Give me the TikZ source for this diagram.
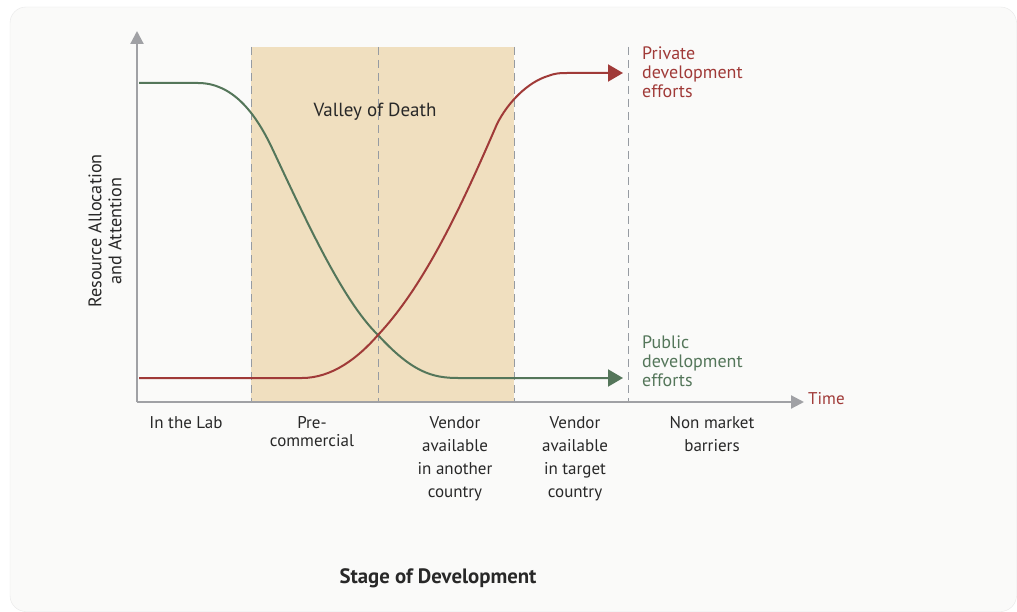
\documentclass[tikz,border=0pt]{standalone}
\usepackage{fontspec}
\setmainfont{PT Sans}
\usetikzlibrary{arrows.meta, positioning}

\definecolor{panelgray}{RGB}{250,250,249}
\definecolor{panelline}{RGB}{232,232,232}
\definecolor{valleytan}{RGB}{240,223,191}
\definecolor{privred}{RGB}{160,58,56}
\definecolor{pubgreen}{RGB}{84,118,90}
\definecolor{axisgray}{RGB}{160,161,165}
\definecolor{dashgray}{RGB}{150,155,162}
\definecolor{labeltext}{RGB}{40,40,40}

\tikzset{
  axisline/.style={draw=axisgray, line width=2.2bp, -{Triangle[length=13bp,width=13bp]}},
  stageline/.style={draw=dashgray, line width=1bp, dash pattern=on 8bp off 5bp},
  effort/.style={line width=2bp, -{Triangle[length=15bp,width=17bp]}},
  stagelabel/.style={anchor=north, align=center, inner sep=0pt, text=labeltext, font=\fontsize{17bp}{23bp}\selectfont},
  effortlabel/.style={anchor=west, align=left, inner sep=0pt, font=\fontsize{18bp}{19bp}\selectfont},
}

\begin{document}
\begin{tikzpicture}[x=1bp, y=-1bp]
            \useasboundingbox (0,0) rectangle (1017,612);

            % Panel behind the chart
            \fill[white] (0,0) rectangle (1017,612);
            \draw[panelline, fill=panelgray, rounded corners=16bp] (10,7) rectangle (1016.5,611.5);

            % Valley of death band
            \fill[valleytan] (251,47) rectangle (514,401);

            % Dashed stage borders
            \foreach \x in {251, 378, 514, 628} {
                    \draw[stageline] (\x,47) -- (\x,401);
                }

            % Axes
            \coordinate (origin) at (137,402);
            \coordinate (ytop) at (137,31);
            \coordinate (xend) at (804,402);
            \draw[axisline] (origin) -- (ytop);
            \draw[axisline] (origin) -- (xend);

            % Public and private effort curves
            \coordinate (pubstart) at (139,83);
            \coordinate (pubend) at (623,378);
            \coordinate (privstart) at (139,378);
            \coordinate (privend) at (623,73);
            \coordinate (cross) at (378,335);

            \draw[effort, pubgreen] (pubstart) -- (198,83)
                .. controls (232,83) and (255,112) .. (272,148)
                .. controls (305,218) and (342,300) .. (cross)
                .. controls (412,372) and (432,378) .. (458,378)
                -- (pubend);
            \draw[effort, privred] (privstart) -- (302,378)
                .. controls (332,378) and (358,358) .. (cross)
                .. controls (425,285) and (462,205) .. (497,124)
                .. controls (508,102) and (528,82) .. (548,76)
                .. controls (556,73) and (560,73) .. (568,73)
                -- (privend);

            % Curve labels
            \node[effortlabel, text=privred] (privlabel) at (642,72) {Private\\development\\efforts};
            \node[effortlabel, text=pubgreen] (publabel) at (642,361) {Public\\development\\efforts};
            \node[anchor=west, inner sep=0pt, text=privred, font=\fontsize{17bp}{20bp}\selectfont] (timelabel) at (808,399) {Time};

            % Axis titles
            \node[rotate=90, align=center, inner sep=0pt, text=labeltext, font=\fontsize{18.2bp}{20bp}\selectfont] (ylabel) at (105,231) {Resource Allocation\\and Attention};
            \node[inner sep=0pt, text=labeltext, font=\fontsize{19bp}{22bp}\selectfont] (valley) at (375,112) {Valley of Death};
            \node[inner sep=0pt, text=labeltext, font=\fontsize{20.8bp}{24bp}\selectfont\bfseries] (stagetitle) at (438,578) {Stage of Development};

            % Stage names under the time axis
            \foreach \x/\txt in {186/In the Lab, 455/Vendor\\available\\in another\\country, 575/Vendor\\available\\in target\\country, 712/Non market\\barriers} {
                    \node[stagelabel] (stage\x) at (\x,416) {\txt};
                }
            \node[stagelabel, font=\fontsize{17bp}{18.5bp}\selectfont] (stage312) at (312,416) {Pre-\\commercial};

        \end{tikzpicture}
\end{document}
